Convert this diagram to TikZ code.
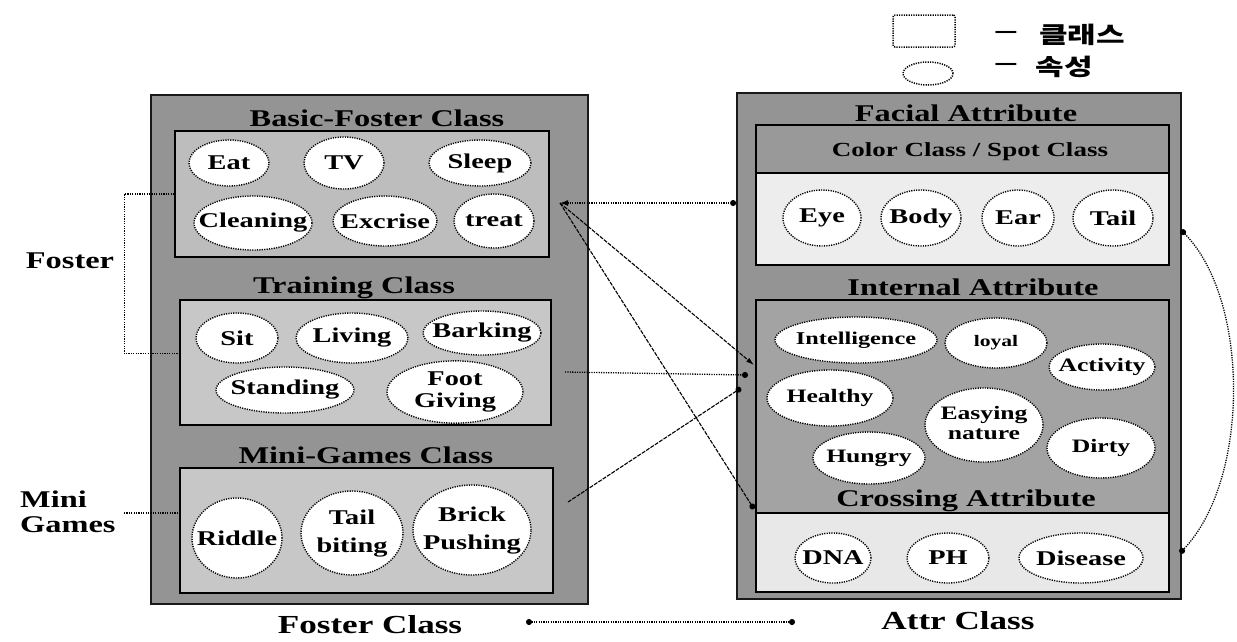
\documentclass[tikz,border=0pt]{standalone}
\usepackage{fontspec}
\setmainfont{Liberation Serif}
\newfontfamily\krfont{Noto Sans CJK KR}
\usepackage{graphicx}
\usetikzlibrary{shapes.geometric,arrows.meta,calc,fit}
\newcommand{\sx}[1]{\scalebox{1.35}[1]{#1}}
\newcommand{\et}[1]{\makebox[0pt]{\sx{#1}}}
\newcommand{\tw}[2]{\makebox[0pt]{\sx{\def\arraystretch{1}\fontsize{21}{#1}\selectfont\begin{tabular}{@{}c@{}}#2\end{tabular}}}}
\tikzset{
  obox/.style={draw=black!90, line width=1.8pt, fill=black!42, inner sep=0pt},
  ibox/.style={draw=black, line width=1.6pt, inner sep=0pt},
  attr/.style 2 args={ellipse, draw=black, dash pattern=on 1.2pt off 1.2pt, line width=1.4pt,
    fill=white, minimum width=#1, minimum height=#2, inner sep=0pt,
    font=\bfseries\fontsize{21}{22}\selectfont},
  ttl/.style={font=\bfseries\fontsize{24}{26}\selectfont, inner sep=0pt},
  big/.style={font=\bfseries\fontsize{26}{28}\selectfont, inner sep=0pt},
  conn/.style={dash pattern=on 1.2pt off 1.2pt, line width=1.3pt, draw=black},
  diag/.style={dash pattern=on 4pt off 1.2pt, line width=1.1pt, draw=black},
}
\begin{document}
\begin{tikzpicture}[x=1pt,y=-1pt]
\useasboundingbox (0,0) rectangle (1237,641);

% ---------- legend ----------
\node[draw=black, dash pattern=on 1.2pt off 1.2pt, line width=1.5pt, rounded corners=2pt, inner sep=0pt,
      fit={(893,15) (955,47)}] (legrect) {};
\node[ellipse, draw=black, dash pattern=on 1.2pt off 1.2pt, line width=1.5pt, inner sep=0pt,
      minimum width=50, minimum height=23] (legell) at (928,73.5) {};
\node[font=\bfseries\fontsize{30}{30}\selectfont, inner sep=0pt] (legd1) at (1006,35) {\sx{--}};
\node[font=\bfseries\fontsize{30}{30}\selectfont, inner sep=0pt] (legd2) at (1006,67) {\sx{--}};
\node[inner sep=0pt, font=\krfont\bfseries\fontsize{23}{25}\selectfont] (legt1) at (1082,35) {\sx{클래스}};
\node[inner sep=0pt, font=\krfont\bfseries\fontsize{23}{25}\selectfont] (legt2) at (1064,67) {\sx{속성}};

% ---------- left: Foster Class ----------
\node[obox, fit={(151,95) (588,604)}] (lbox) {};
\node[ibox, fill=black!26, fit={(175,131) (549,257)}] (basic) {};
\node[ibox, fill=black!22, fit={(180,300) (551,425)}] (train) {};
\node[ibox, fill=black!22, fit={(180,468) (553,593)}] (mini) {};

\node[ttl] (tbasic) at (377,118) {\sx{Basic-Foster Class}};
\node[ttl] (ttrain) at (354,288) {\sx{Training Class}};
\node[ttl] (tmini)  at (366,455) {\sx{Mini-Games Class}};

\node[attr={80}{46}]  (eat)   at (229,163) {\et{Eat}};
\node[attr={80}{52}]  (tv)    at (344,163) {\et{TV}};
\node[attr={102}{46}] (sleep) at (480,163) {\et{Sleep}};
\node[attr={118}{54}] (clean) at (253,223) {\et{Cleaning}};
\node[attr={104}{50}] (excr)  at (385,221) {\et{Excrise}};
\node[attr={80}{54}]  (treat) at (494,221) {\et{treat}};

\node[attr={82}{50}]  (sit)   at (237,338) {\et{Sit}};
\node[attr={112}{50}] (liv)   at (352,338) {\et{Living}};
\node[attr={118}{44}] (bark)  at (482,333) {\et{Barking}};
\node[attr={138}{46}] (stand) at (285,390) {\et{Standing}};
\node[attr={136}{56}] (foot)  at (455,392) {\tw{22}{Foot\\Giving}};

\node[attr={90}{80}]  (riddle) at (237,538) {\et{Riddle}};
\node[attr={102}{84}] (tailb)  at (352,533) {\tw{28}{Tail\\biting}};
\node[attr={118}{90}] (brick)  at (472,530) {\tw{28}{Brick\\Pushing}};

\node[big] (fosterc) at (370,625) {\sx{Foster Class}};
\node[ttl] (fosterl) at (70,261) {\sx{Foster}};
\node[ttl, anchor=west, align=left, font=\bfseries\fontsize{24}{25}\selectfont] (minil) at (20,512) {\sx{Mini}\\\sx{Games}};

% ---------- right: Attr Class ----------
\node[obox, fit={(737,93) (1181,599)}] (rbox) {};
\node[ibox, fill=black!40, fit={(756,125) (1169,173)}] (fhead) {};
\node[ibox, fill=black!7,  fit={(756,173) (1169,265)}] (fbody) {};
\node[ibox, fill=black!36, fit={(756,300) (1169,513)}] (intl) {};
\node[ibox, fill=black!9,  fit={(756,513) (1169,592)}] (cross) {};

\node[ttl] (tfacial) at (966,113) {\sx{Facial Attribute}};
\node[ttl, font=\bfseries\fontsize{20}{22}\selectfont] (tcolor) at (970,152) {\sx{Color Class / Spot Class}};
\node[ttl] (tinternal) at (973,287) {\sx{Internal Attribute}};
\node[ttl] (tcross) at (966,501) {\sx{Crossing Attribute}};

\node[attr={78}{56}] (eye)  at (822,218) {\et{Eye}};
\node[attr={80}{56}] (body) at (921,218) {\et{Body}};
\node[attr={72}{56}] (ear)  at (1018,218) {\et{Ear}};
\node[attr={80}{56}] (tail) at (1113,218) {\et{Tail}};

\node[attr={162}{46}, font=\bfseries\fontsize{18}{20}\selectfont] (intel) at (856,340) {\et{Intelligence}};
\node[attr={102}{50}, font=\bfseries\fontsize{16}{18}\selectfont] (loyal) at (996,343) {\et{loyal}};
\node[attr={106}{46}, font=\bfseries\fontsize{19}{21}\selectfont] (activ) at (1102,367) {\et{Activity}};
\node[attr={126}{56}, font=\bfseries\fontsize{19}{21}\selectfont] (health) at (830,398) {\et{Healthy}};
\node[attr={118}{74}] (easy) at (984,425) {\makebox[0pt]{\sx{\fontsize{19}{20}\selectfont\begin{tabular}{@{}c@{}}Easying\\nature\end{tabular}}}};
\node[attr={108}{60}, font=\bfseries\fontsize{19}{21}\selectfont] (dirty) at (1101,448) {\et{Dirty}};
\node[attr={112}{52}, font=\bfseries\fontsize{19}{21}\selectfont] (hungry) at (869,458) {\et{Hungry}};

\node[attr={76}{50}]  (dna)  at (833,558) {\et{DNA}};
\node[attr={82}{50}]  (ph)   at (948,558) {\et{PH}};
\node[attr={124}{50}] (dis)  at (1081,558) {\et{Disease}};

\node[big] (attrc) at (958,621) {\sx{Attr Class}};

% ---------- connectors ----------
\draw[conn] (basic.west) -- ++(-50,0) |- ([yshift=9pt]train.west);
\coordinate (mg) at (124,513);
\draw[conn] (mg) -- (mg -| mini.west);

\coordinate (pA) at (560,203);
\coordinate (pB) at (754,365);
\coordinate (pC) at (754,509);
\coordinate (pD0) at (565,372);
\coordinate (pD) at (748,375);
\coordinate (pE0) at (568,502);
\coordinate (pE) at (741,388);
\draw[conn, {Latex[length=8pt,width=6pt]}-{Circle[length=6pt]}] (pA) -- (pA -| rbox.west);
\draw[diag, -{Latex[length=8pt,width=5pt]}] (pA) -- (pB);
\draw[diag, -{Circle[length=6pt]}] (pA) -- (pC);
\draw[conn, -{Circle[length=6pt]}] (pD0) -- (pD);
\draw[diag, -{Circle[length=6pt]}] (pE0) -- (pE);

\coordinate (pF) at (1181,230);
\coordinate (pG) at (1180,553);
\draw[conn, {Circle[length=6pt]}-{Circle[length=6pt]}] (pF) .. controls (1250,300) and (1250,480) .. (pG);

\coordinate (pH) at (526,622);
\coordinate (pI) at (795,622);
\draw[conn, {Circle[length=6pt]}-{Circle[length=6pt]}] (pH) -- (pI);
\end{tikzpicture}
\end{document}
